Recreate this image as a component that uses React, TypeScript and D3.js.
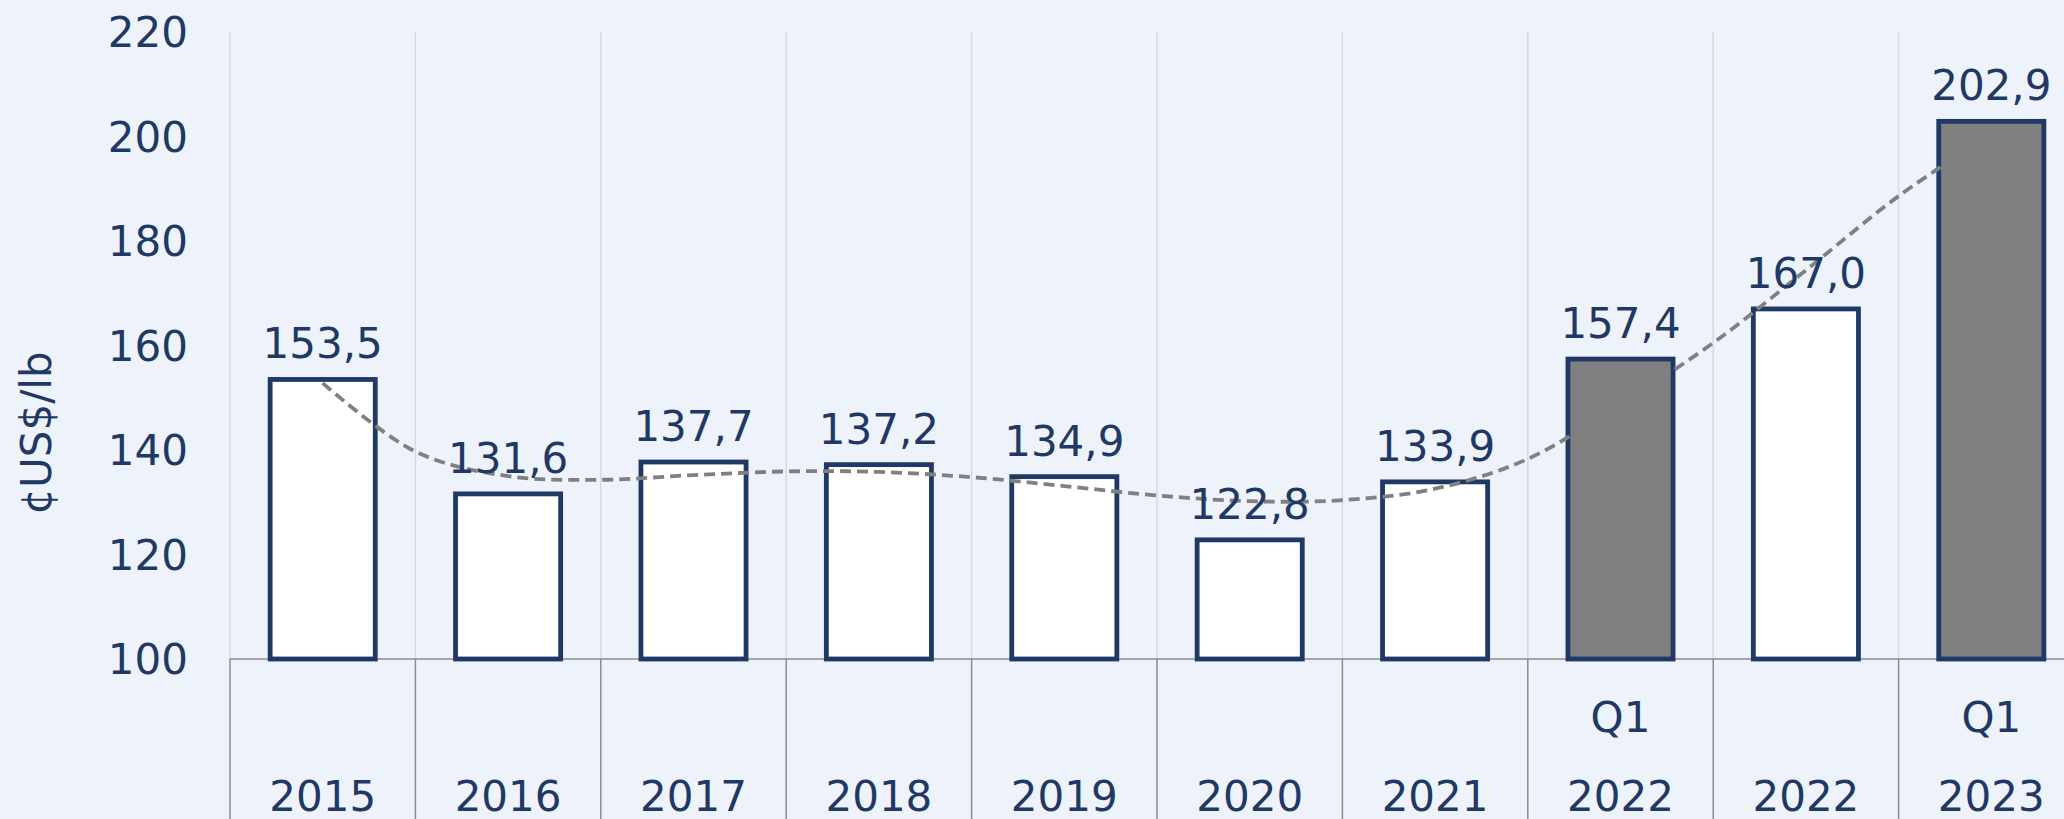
import React from 'react';
import * as d3 from 'd3';

const categories = ['2015', '2016', '2017', '2018', '2019', '2020', '2021', '2022', '2022', '2023'];
const periodLabels = ['', '', '', '', '', '', '', 'Q1', '', 'Q1'];
const values = [153.5, 131.6, 137.7, 137.2, 134.9, 122.8, 133.9, 157.4, 167.0, 202.9];
const isQuarter = [false, false, false, false, false, false, false, true, false, true];
const yTicks = [100, 120, 140, 160, 180, 200, 220];
// dashed trend line (position = category number, 1-based)
const trendPos = [1, 1.5, 2, 2.5, 3, 3.5, 4, 4.5, 5, 5.5, 6, 6.5, 7, 7.5, 8, 8.5, 9, 9.5, 10];
const trendValues = [152.8, 139.7, 135.0, 134.3, 135.2, 135.9, 135.8, 134.8, 133.1, 131.3, 130.2, 130.4, 132.6, 138.3, 148.8, 160.5, 174.4, 188.6, 200.5];
const yTitle = '¢US$/lb';

const W = 2064;
const H = 819;
const FONT = '"DejaVu Sans", Verdana, sans-serif';
const NAVY = '#1f3864';
const BG = '#eef2fb';

export default function App() {
  const left = 230;
  const step = 185.4;
  const top = 32;
  const base = 659;

  const x = d3.scaleBand<number>().domain(d3.range(categories.length)).range([left, left + step * categories.length]).padding(0);
  const xPos = d3.scaleLinear().domain([0.5, categories.length + 0.5]).range([left, left + step * categories.length]);
  const y = d3.scaleLinear().domain([100, 220]).range([base, top]);
  const barW = x.bandwidth() * 0.567;

  const line = d3.line<number>()
    .x((_, i) => xPos(trendPos[i]))
    .y((d) => y(d))
    .curve(d3.curveCatmullRom.alpha(0.5));

  const bounds = d3.range(categories.length + 1).map((i) => left + i * x.step());

  return (
    <svg width={W} height={H} style={{ position: 'fixed', left: 0, top: 0, display: 'block' }} fontFamily={FONT}>
      <rect x={0} y={0} width={W} height={H} fill={BG} />
      {bounds.map((bx, i) => (
        <g key={'g' + i}>
          <line x1={bx} x2={bx} y1={top} y2={base} stroke="#d9d9d9" strokeWidth={1.5} />
          <line x1={bx} x2={bx} y1={base} y2={H} stroke="#8c8c8c" strokeWidth={1.5} />
        </g>
      ))}
      <line x1={left} x2={W} y1={base} y2={base} stroke="#8c8c8c" strokeWidth={1.5} />
      {values.map((v, i) => {
        const cx = (x(i) as number) + x.bandwidth() / 2;
        return (
          <rect key={'b' + i} x={cx - barW / 2} y={y(v)} width={barW} height={base - y(v)}
            fill={isQuarter[i] ? '#808080' : '#ffffff'} stroke={NAVY} strokeWidth={4.8} />
        );
      })}
      <path d={line(trendValues) || ''} fill="none" stroke="#808080" strokeWidth={3.8} strokeDasharray="11 6" />
      {values.map((v, i) => {
        const cx = (x(i) as number) + x.bandwidth() / 2;
        return (
          <text key={'l' + i} x={cx} y={y(v) - 21} textAnchor="middle" fontSize={42} fill={NAVY}>
            {v.toFixed(1).replace('.', ',')}
          </text>
        );
      })}
      {yTicks.map((t) => (
        <text key={'t' + t} x={188} y={y(t)} dy="0.36em" textAnchor="end" fontSize={42} fill={NAVY}>{t}</text>
      ))}
      {categories.map((c, i) => {
        const cx = (x(i) as number) + x.bandwidth() / 2;
        return (
          <g key={'c' + i}>
            {periodLabels[i] && (
              <text x={cx} y={732} textAnchor="middle" fontSize={42} fill={NAVY}>{periodLabels[i]}</text>
            )}
            <text x={cx} y={811} textAnchor="middle" fontSize={42} fill={NAVY}>{c}</text>
          </g>
        );
      })}
      <text transform="translate(51,433) rotate(-90)" textAnchor="middle" fontSize={42} fill={NAVY}>{yTitle}</text>
    </svg>
  );
}
